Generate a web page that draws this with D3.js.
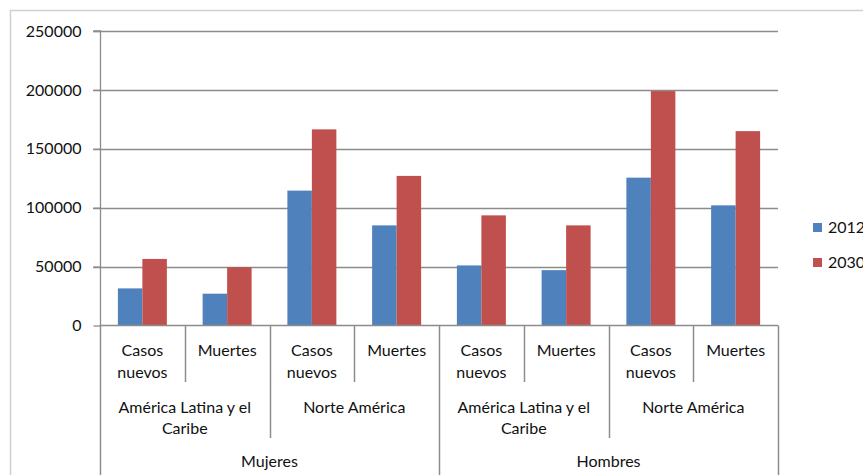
<!DOCTYPE html>
<html>
<head>
<meta charset="utf-8">
<script src="https://cdn.jsdelivr.net/npm/d3@7"></script>
<style>
  body { margin: 0; background: #fff; overflow: hidden; }
  svg { display: block; }
  text { font-family: Lato, "Open Sans", sans-serif; fill: #111; }
</style>
</head>
<body>
<div id="chart"></div>
<script>
// data
var generos = ["Mujeres", "Hombres"];
var regiones = ["América Latina y el Caribe", "Norte América"];
var medidas = ["Casos nuevos", "Muertes"];
var series = ["2012", "2030"];
var valores2012 = [31500, 27000, 114500, 85000, 51000, 47000, 125500, 102000];
var valores2030 = [56500, 49500, 166500, 127000, 93500, 85000, 199000, 165000];
var yTicks = [0, 50000, 100000, 150000, 200000, 250000];
var colores = ["#4F81BD", "#C0504D"];

var W = 863, H = 475;
var plotLeft = 100, plotRight = 778, plotTop = 31, zero = 325.5;

// build the flat category list
var cats = [];
generos.forEach(function(g){
	regiones.forEach(function(r){
		medidas.forEach(function(m){
			cats.push({g: g, r: r, m: m, key: g + "|" + r + "|" + m});
		});
	});
});
cats.forEach(function(c, i){ c.v = [valores2012[i], valores2030[i]]; });

var svg = d3.select("#chart").append("svg")
	.attr("width", W)
	.attr("height", H);

// outer chart border
svg.append("path")
	.attr("d", "M10.5," + (H + 5) + "V10.5H" + (W + 5))
	.attr("fill", "none")
	.attr("stroke", "#d0d0d0")
	.attr("stroke-width", 1.5);

var y = d3.scaleLinear().domain([0, 250000]).range([zero, plotTop]);
var x0 = d3.scaleBand().domain(cats.map(function(c){ return c.key; })).range([plotLeft, plotRight]);
var x1 = d3.scaleBand().domain(series).range([0, x0.bandwidth()]).paddingInner(0).paddingOuter(0.73);

// gridlines
svg.append("g").selectAll("line")
	.data(yTicks.filter(function(d){ return d > 0; }))
	.enter().append("line")
	.attr("x1", plotLeft - 7).attr("x2", plotRight)
	.attr("y1", function(d){ return Math.round(y(d)) + 0.5; })
	.attr("y2", function(d){ return Math.round(y(d)) + 0.5; })
	.attr("stroke", "#8c8c8c")
	.attr("stroke-width", 1.3);

// y axis
var yAxis = d3.axisLeft(y).tickValues(yTicks).tickSize(7).tickPadding(12).tickFormat(d3.format("d"));
var gy = svg.append("g")
	.attr("transform", "translate(" + (plotLeft + 0.5) + ",0)")
	.call(yAxis);
gy.select(".domain").attr("stroke", "#8c8c8c").attr("stroke-width", 1.3).attr("d", "M-7," + plotTop + "H0V" + zero);
gy.selectAll(".tick line").attr("stroke", "#8c8c8c").attr("stroke-width", 1.3);
gy.selectAll(".tick text").style("font-size", "16px").style("font-family", "Lato, sans-serif").attr("fill", "#111");

// bars
var groups = svg.append("g").selectAll("g")
	.data(cats)
	.enter().append("g")
	.attr("transform", function(c){ return "translate(" + x0(c.key) + ",0)"; });
groups.selectAll("rect")
	.data(function(c){ return c.v.map(function(v, i){ return {s: series[i], v: v, i: i}; }); })
	.enter().append("rect")
	.attr("x", function(d){ return x1(d.s); })
	.attr("width", x1.bandwidth())
	.attr("y", function(d){ return y(d.v); })
	.attr("height", function(d){ return zero - y(d.v); })
	.attr("fill", function(d){ return colores[d.i]; });

// x axis line
svg.append("line")
	.attr("x1", plotLeft).attr("x2", plotRight)
	.attr("y1", zero).attr("y2", zero)
	.attr("stroke", "#8c8c8c").attr("stroke-width", 1.5);

// multi level category separators
var sepEnd1 = 382, sepEnd2 = 438, sepEnd3 = H + 5;
var seps = [];
for (var i = 0; i <= cats.length; i++){
	var xx = i < cats.length ? x0(cats[i].key) : plotRight;
	var end = sepEnd1;
	if (i % 2 == 0) end = sepEnd2;
	if (i % 4 == 0) end = sepEnd3;
	seps.push({x: xx, end: end});
}
svg.append("g").selectAll("line")
	.data(seps)
	.enter().append("line")
	.attr("x1", function(d){ return Math.round(d.x) + 0.5; })
	.attr("x2", function(d){ return Math.round(d.x) + 0.5; })
	.attr("y1", zero)
	.attr("y2", function(d){ return d.end; })
	.attr("stroke", "#8c8c8c").attr("stroke-width", 1.5);

function wrapLabel(g, label, cx, cy, maxW, lh){
	var t = g.append("text").attr("text-anchor", "middle").style("font-size", "16px");
	var words = label.split(" "), lines = [], cur = [];
	var probe = g.append("text").style("font-size", "16px");
	words.forEach(function(w){
		var test = cur.concat([w]).join(" ");
		probe.text(test);
		if (probe.node().getComputedTextLength() > maxW && cur.length){
			lines.push(cur.join(" "));
			cur = [w];
		} else cur.push(w);
	});
	lines.push(cur.join(" "));
	probe.remove();
	lines.forEach(function(l, k){
		t.append("tspan").attr("x", cx).attr("y", cy + k * lh).attr("dy", "0.35em").text(l);
	});
}

var lab = svg.append("g");
cats.forEach(function(c){
	wrapLabel(lab, c.m, x0(c.key) + x0.bandwidth() / 2, 350, 76, 22);
});
for (var k = 0; k < cats.length; k += 2){
	var cx = x0(cats[k].key) + x0.bandwidth();
	wrapLabel(lab, cats[k].r, cx, 407, 158, 21);
}
for (var k = 0; k < cats.length; k += 4){
	var cx = x0(cats[k].key) + 2 * x0.bandwidth();
	wrapLabel(lab, cats[k].g, cx, 461, 300, 21);
}

// legend
var leg = svg.append("g").selectAll("g")
	.data(series)
	.enter().append("g")
	.attr("transform", function(d, i){ return "translate(813," + (223 + i * 35) + ")"; });
leg.append("rect").attr("width", 9).attr("height", 9)
	.attr("fill", function(d, i){ return colores[i]; });
leg.append("text").attr("x", 15).attr("y", 4.5).attr("dy", "0.35em")
	.style("font-size", "16px").text(function(d){ return d; });
</script>
</body>
</html>
